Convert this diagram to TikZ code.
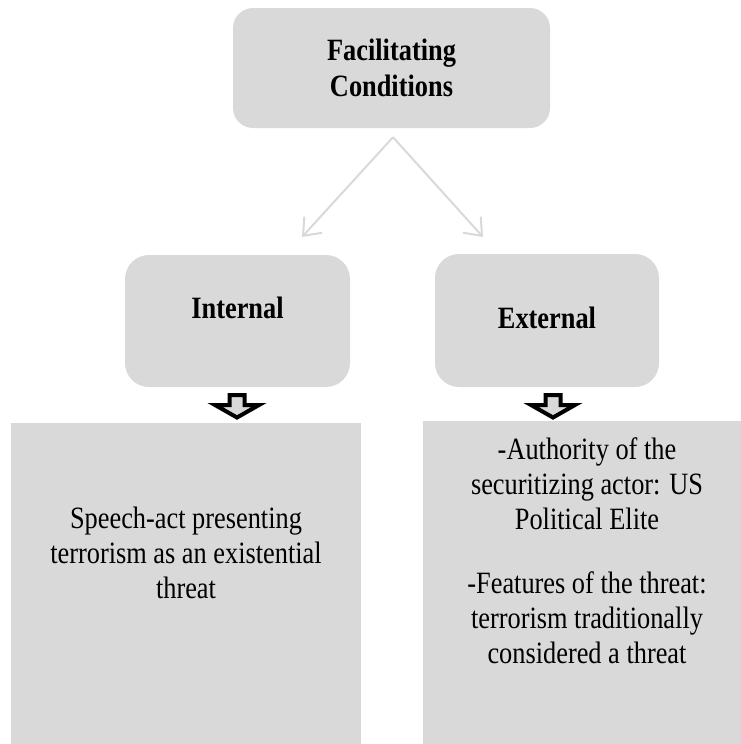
\documentclass[tikz,border=0pt]{standalone}
\usepackage{fontspec}
\setmainfont{Liberation Serif}[FakeStretch=0.85]
\usetikzlibrary{arrows.meta,calc}
\definecolor{panelgrey}{HTML}{D9D9D9}
\begin{document}
\begin{tikzpicture}[x=1pt,y=-1pt,
  txt/.style={font=\fontsize{31}{35}\selectfont, text=black},
  head/.style={font=\fontsize{31}{36}\selectfont\bfseries, text=black, align=center},
  roundbox/.style={fill=panelgrey, draw=none, rounded corners=20pt, inner sep=0pt},
  panel/.style={fill=panelgrey, draw=none, inner sep=0pt},
  split/.style={draw=panelgrey, line width=2pt, -{Straight Barb[length=15pt,width=24pt]}},
  blockarrow/.style={draw=black, fill=panelgrey, line width=4pt, line join=miter},
]
\useasboundingbox (0,0) rectangle (741,744);

% heading and the two branches
\node[roundbox, head, minimum width=317pt, minimum height=120pt] (fc) at (391.5,68) {Facilitating\\Conditions};
\node[roundbox, head, rounded corners=24pt, minimum width=225pt, minimum height=132pt,
      text height=21pt, text depth=27pt] (int) at (237.5,321) {Internal};
\node[roundbox, head, rounded corners=24pt, minimum width=224pt, minimum height=133pt,
      text height=21pt, text depth=6pt] (ext) at (547,320.5) {External};

% fork from the heading to the branches
\coordinate (fork) at ($(fc.south)+(1.5,9)$);
\coordinate (lefttip) at (302,237);
\coordinate (righttip) at (483,237);
\draw[split] (fork) -- (lefttip);
\draw[split] (fork) -- (righttip);

% lower panels
\node[panel, minimum width=350pt, minimum height=321pt] (speech) at (186,583.5) {};
\node[panel, minimum width=318pt, minimum height=323pt] (feat) at (582,582.5) {};

\node[txt, align=center, inner sep=0pt, anchor=north] (speechtxt) at (186,507)
  {Speech-act presenting\\terrorism as an existential\\threat};
\node[txt, align=center, inner sep=0pt, anchor=north] (feattxt) at (587,437)
  {-Authority of the\\securitizing actor: US\\Political Elite\\[29pt]-Features of the threat:\\terrorism traditionally\\considered a threat};

% block arrows from each branch down to its panel
\coordinate (intdrop) at (237,395);
\coordinate (extdrop) at (553,395);
\foreach \c in {intdrop,extdrop}{
  \draw[blockarrow] (\c) ++(-7.5,0) -- ++(15,0) -- ++(0,10) -- ++(14.5,0) -- ++(-22,12.5)
        -- ++(-22,-12.5) -- ++(14.5,0) -- cycle;
}
\end{tikzpicture}
\end{document}
